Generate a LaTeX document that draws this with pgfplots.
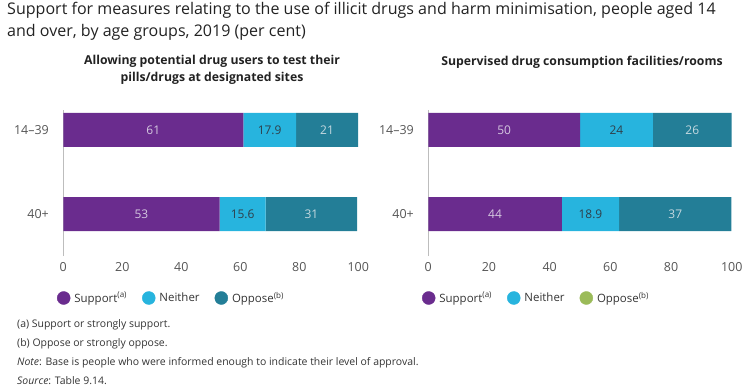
\documentclass[border=0pt]{standalone}
\usepackage{pgfplots}
\pgfplotsset{compat=1.18}
\usepackage{pgfplotstable}
\usepackage{fontspec}
\setmainfont{Open Sans}
\definecolor{cpurple}{HTML}{6A2C8E}
\definecolor{ccyan}{HTML}{27B4DE}
\definecolor{cteal}{HTML}{237E97}
\definecolor{cgreen}{HTML}{9BBB59}
\definecolor{axgray}{HTML}{BDBDBD}
\definecolor{txtgray}{HTML}{555555}
\definecolor{ltpurple}{HTML}{D5C8E0}
\definecolor{dkcyan}{HTML}{2F3F4A}
\definecolor{ltteal}{HTML}{C5D9E0}
\definecolor{titlecol}{HTML}{222222}
\definecolor{notecol}{HTML}{333333}

\pgfplotstableread{
y sup nei opp
1 61 17.9 21
0 53 15.6 31
}\lefttab
\pgfplotstableread{
y sup nei opp
1 50 24 26
0 44 18.9 37
}\righttab

\pgfplotsset{
  mybar/.style={
    stack plots=x, scale only axis, height=146bp,
    xmin=0, xmax=100, ymin=-0.5, ymax=1.238,
    axis x line*=bottom, axis y line*=left,
    x axis line style={draw=none},
    y axis line style={draw=axgray, line width=1.3bp, -},
    major tick length=0pt,
    xtick={0,20,...,100}, ytick={0,1}, yticklabels={40+,14--39},
    ticklabel style={font=\fontsize{12.5}{14}\selectfont, text=txtgray},
    xticklabel style={yshift=-3bp},
    yticklabel style={xshift=-11bp},
    /pgf/number format/assume math mode=true,
    legend style={draw=none, fill=none, at={(axis description cs:0,0)},
      anchor=west, yshift=-42bp, xshift=-6.5bp, inner sep=0pt,
      font=\fontsize{11.5}{13}\selectfont, text=notecol,
      legend columns=-1,
      /tikz/every odd column/.append style={column sep=2bp},
      /tikz/every even column/.append style={column sep=13bp}},
  },
  seg/.style n args={3}{xbar, bar shift=0pt, bar width=34bp, fill=#1, draw=none, forget plot,
    visualization depends on={\thisrow{#2} \as \rawx},
    nodes near coords={\pgfmathprintnumber{\rawx}},
    nodes near coords style={text=#3, anchor=center,
      shift={(axis direction cs:-\rawx/2,0)},
      font=\fontsize{12}{14}\selectfont}},
}

\begin{document}
\begin{tikzpicture}
\useasboundingbox (0,0) rectangle (749bp,-391bp);
\node[anchor=north west, align=left, text=titlecol, font=\fontsize{16.1}{22}\selectfont, inner sep=0pt] at (7bp,-2bp)
  {Support for measures relating to the use of illicit drugs and harm minimisation, people aged 14\\and over, by age groups, 2019 (per cent)};
\node[align=center, text=titlecol, font=\bfseries\fontsize{12.3}{16.5}\selectfont, inner sep=0pt] at (212bp,-70bp)
  {Allowing potential drug users to test their\\pills/drugs at designated sites};
\node[align=center, text=titlecol, font=\bfseries\fontsize{12.3}{16.5}\selectfont, inner sep=0pt] at (582bp,-62bp)
  {Supervised drug consumption facilities/rooms};

\begin{axis}[mybar, width=295bp, at={(63.3bp,-256bp)}, anchor=south west]
\addplot[seg={cpurple}{sup}{ltpurple}] table[x=sup, y=y]{\lefttab};
\addplot[seg={ccyan}{nei}{dkcyan}] table[x=nei, y=y]{\lefttab};
\addplot[seg={cteal}{opp}{ltteal}] table[x=opp, y=y]{\lefttab};
\addlegendimage{legend image code/.code={\fill[cpurple] (0bp,0bp) circle (6.5bp);}}
\addlegendentry{Support\textsuperscript{(a)}}
\addlegendimage{legend image code/.code={\fill[ccyan] (0bp,0bp) circle (6.5bp);}}
\addlegendentry{Neither}
\addlegendimage{legend image code/.code={\fill[cteal] (0bp,0bp) circle (6.5bp);}}
\addlegendentry{Oppose\textsuperscript{(b)}}
\end{axis}

\begin{axis}[mybar, width=303.4bp, at={(428.3bp,-256bp)}, anchor=south west]
\addplot[seg={cpurple}{sup}{ltpurple}] table[x=sup, y=y]{\righttab};
\addplot[seg={ccyan}{nei}{dkcyan}] table[x=nei, y=y]{\righttab};
\addplot[seg={cteal}{opp}{ltteal}] table[x=opp, y=y]{\righttab};
\addlegendimage{legend image code/.code={\fill[cpurple] (0bp,0bp) circle (6.5bp);}}
\addlegendentry{Support\textsuperscript{(a)}}
\addlegendimage{legend image code/.code={\fill[ccyan] (0bp,0bp) circle (6.5bp);}}
\addlegendentry{Neither}
\addlegendimage{legend image code/.code={\fill[cgreen] (0bp,0bp) circle (6.5bp);}}
\addlegendentry{Oppose\textsuperscript{(b)}}
\end{axis}

\begin{scope}[every node/.style={anchor=west, inner sep=0pt, text=notecol, font=\fontsize{10.5}{12}\selectfont}]
\node at (17bp,-325bp) {(a) Support or strongly support.};
\node at (17bp,-344bp) {(b) Oppose or strongly oppose.};
\node at (17bp,-363bp) {\textit{Note}: Base is people who were informed enough to indicate their level of approval.};
\node at (17bp,-381bp) {\textit{Source}: Table 9.14.};
\end{scope}
\end{tikzpicture}
\end{document}
